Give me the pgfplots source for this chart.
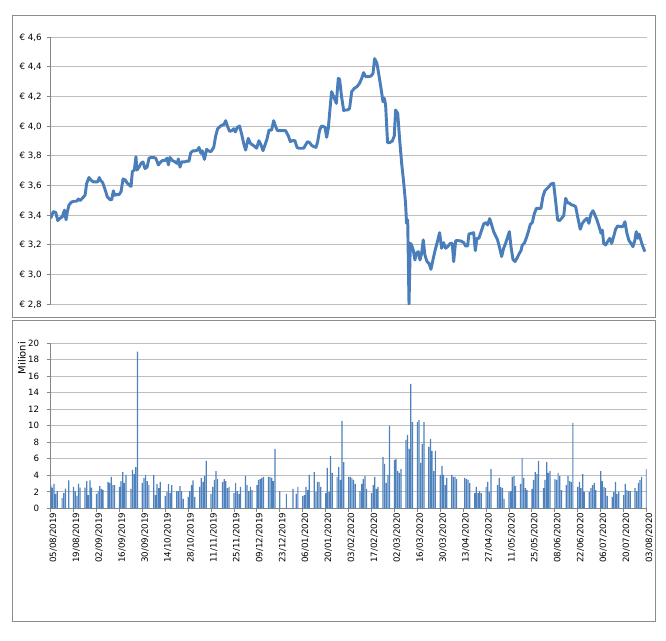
\documentclass[border=0pt]{standalone}
\usepackage{fontspec}
\setmainfont{DejaVu Sans}
\usepackage{pgfplots}
\pgfplotsset{compat=1.18}
\definecolor{lineblue}{HTML}{4A7EBB}
\definecolor{barblue}{HTML}{4F81BD}
\definecolor{gridgray}{HTML}{BEBEBE}
\definecolor{framegray}{HTML}{8C8C8C}
\definecolor{axisgray}{HTML}{868686}
\begin{document}
\begin{tikzpicture}[font=\fontsize{6.5}{7.8}\selectfont]
\path[use as bounding box] (0,0) rectangle (499.5pt,480.75pt);
\draw[framegray, line width=0.75pt] (9.2pt,242.25pt) rectangle (491.6pt,468.75pt);
\draw[framegray, line width=0.75pt] (9.2pt,14.5pt) rectangle (491.6pt,240pt);

\begin{axis}[
  at={(38pt,252.5pt)}, anchor=south west,
  scale only axis, width=446.9pt, height=200.25pt,
  xmin=0, xmax=364, ymin=2.8, ymax=4.6,
  axis x line=none,
  axis y line=left, y axis line style={-, axisgray, line width=0.75pt},
  ytick={2.8,3,3.2,3.4,3.6,3.8,4,4.2,4.4,4.6},
  yticklabels={{€ 2,8},{€ 3,0},{€ 3,2},{€ 3,4},{€ 3,6},{€ 3,8},{€ 4,0},{€ 4,2},{€ 4,4},{€ 4,6}},
  tick align=outside, major tick length=3pt,
  tick style={axisgray, line width=0.75pt},
  ymajorgrids, grid style={gridgray, line width=0.75pt},
  yticklabel style={anchor=east, inner sep=0pt, xshift=-3.5pt},
]
\addplot[lineblue, line width=2.2pt, line join=round] coordinates {
(0,3.38)(1.6,3.425)(3.1,3.42)(4.3,3.365)(5.7,3.38)(7.1,3.39)(8.4,3.435)(9.4,3.37)(10.2,3.425)(11.2,3.47)(12.8,3.49)(14.5,3.495)(15.9,3.495)(16.9,3.51)(18.1,3.50)(19.3,3.515)(21.0,3.535)(22.0,3.615)(23.4,3.655)(24.4,3.64)(26.1,3.625)(27.5,3.625)(28.7,3.625)(29.7,3.655)(30.5,3.635)(31.8,3.62)(33.2,3.575)(34.6,3.525)(36.3,3.505)(37.3,3.505)(38.3,3.565)(39.1,3.535)(40.3,3.54)(41.8,3.54)(43.0,3.56)(44.2,3.645)(45.4,3.64)(46.6,3.62)(47.9,3.605)(49.1,3.595)(49.9,3.695)(51.1,3.705)(52.1,3.795)(52.7,3.705)(54.0,3.725)(55.2,3.75)(56.4,3.76)(57.6,3.715)(58.9,3.725)(60.1,3.785)(61.3,3.79)(62.9,3.79)(64.2,3.785)(65.8,3.74)(67.2,3.76)(68.4,3.77)(69.9,3.77)(71.1,3.785)(71.9,3.74)(72.9,3.79)(74.3,3.77)(76.0,3.76)(77.2,3.75)(78.0,3.78)(79.0,3.725)(80.0,3.76)(81.7,3.76)(83.1,3.765)(84.5,3.765)(85.5,3.82)(86.8,3.835)(88.2,3.835)
(89.8,3.84)(90.6,3.858)(91.8,3.818)(92.6,3.835)(93.9,3.777)(95.3,3.845)(96.3,3.835)(97.9,3.829)(99.6,3.858)(100.8,3.935)(102.0,3.984)(103.4,3.998)(104.8,4.009)(105.9,4.013)(106.9,4.038)(108.1,3.998)(109.3,3.966)(110.6,3.971)(111.8,3.984)(112.8,3.962)(114.0,3.993)(115.4,4.002)(116.7,3.946)(117.9,3.885)(119.1,3.84)(120.7,3.919)(122.0,3.885)(123.4,3.874)(124.8,3.863)(125.8,3.852)(127.2,3.903)(128.5,3.874)(129.7,3.836)(130.9,3.874)(132.1,3.912)(133.4,3.975)(135.0,3.975)(136.2,4.038)(137.4,3.998)(138.6,3.971)(140.3,3.971)(141.9,3.971)(143.5,3.971)(145.2,3.935)(146.4,3.897)(147.6,3.903)(149.2,3.903)(150.5,3.858)(151.7,3.852)(153.3,3.852)(154.5,3.852)(155.8,3.876)(157.0,3.897)(158.2,3.89)(159.4,3.872)(160.8,3.863)(162.1,3.858)(163.1,3.897)(164.3,3.975)(165.5,4.002)(166.8,3.998)(167.6,3.993)(168.6,3.926)(169.6,3.987)(170.4,4.088)(171.6,4.234)(172.9,4.2)(174.5,4.155)(175.7,4.324)(176.5,4.317)(177.7,4.2)(179.0,4.106)
(179.8,4.11)(181.4,4.11)(182.6,4.121)(183.9,4.234)(185.5,4.256)(187.1,4.267)(188.7,4.29)(190.0,4.324)(191.2,4.362)(192.4,4.335)(194.0,4.335)(195.7,4.339)(196.9,4.357)(197.9,4.456)(199.3,4.425)(200.5,4.346)(201.8,4.256)(203.0,4.166)(203.8,4.189)(204.6,4.144)(205.8,3.89)(207.1,3.89)(208.7,3.901)(209.9,3.935)(210.7,4.11)(212.0,4.088)(213.2,3.908)(214.4,3.751)(215.6,3.627)(216.8,3.481)(217.4,3.346)(218.1,3.369)(218.9,2.8)(219.7,3.211)(220.5,3.2)(221.5,3.166)(222.5,3.099)(223.6,3.148)(224.6,3.155)(225.6,3.099)(226.6,3.144)(227.6,3.234)(228.6,3.133)(229.9,3.088)(231.1,3.076)(232.3,3.036)(233.5,3.099)(234.8,3.162)(236.4,3.229)(237.6,3.283)(238.8,3.178)(240.0,3.216)(241.3,3.178)(242.5,3.189)(244.1,3.211)(245.3,3.211)(246.2,3.088)(247.4,3.229)(249.0,3.229)(250.6,3.227)(252.3,3.216)(253.5,3.193)(254.7,3.193)(255.5,3.274)(257.2,3.279)(258.4,3.283)(259.4,3.162)(260.4,3.245)(261.6,3.245)(263.3,3.301)(264.5,3.342)(266.1,3.351)(266.9,3.335)(268.2,3.378)(269.4,3.335)(270.6,3.29)
(273.0,3.234)(274.3,3.178)(275.5,3.122)(276.7,3.178)(277.9,3.211)(279.1,3.252)(280.2,3.29)(281.2,3.189)(282.4,3.103)(283.6,3.088)(284.8,3.11)(286.1,3.139)(287.3,3.162)(288.1,3.2)(289.3,3.211)(290.5,3.245)(291.8,3.29)(293.0,3.339)(294.2,3.351)(295.4,3.409)(296.7,3.447)(297.9,3.447)(299.5,3.447)(300.7,3.526)(301.9,3.566)(303.2,3.58)(304.4,3.593)(305.6,3.611)(307.2,3.616)(308.5,3.492)(309.7,3.369)(310.9,3.364)(312.1,3.38)(313.4,3.398)(314.6,3.515)(315.8,3.485)(317.0,3.481)(318.2,3.47)(319.5,3.467)(320.7,3.458)(321.9,3.391)(323.5,3.306)(324.8,3.346)(326.0,3.364)(327.6,3.38)(328.8,3.346)(330.0,3.409)(331.3,3.431)(332.5,3.402)(333.7,3.369)(334.9,3.328)(336.2,3.279)(337.0,3.301)(337.8,3.211)(339.0,3.2)(340.2,3.222)(341.5,3.245)(342.7,3.211)(343.9,3.256)(345.1,3.306)(346.3,3.328)(348.0,3.324)(349.6,3.324)(350.8,3.357)(352.0,3.279)(353.3,3.229)(354.5,3.211)(355.7,3.189)(356.9,3.234)(357.7,3.29)(358.6,3.245)(359.4,3.274)(360.2,3.245)(361.4,3.2)(363.0,3.155)
};
\end{axis}

\begin{axis}[
  at={(38pt,99.5pt)}, anchor=south west,
  scale only axis, width=446.9pt, height=123.75pt,
  xmin=0, xmax=364, ymin=0, ymax=20,
  axis lines=left, axis line style={-, axisgray, line width=0.75pt},
  xtick={0,14,...,364},
  xticklabels={05/08/2019,19/08/2019,02/09/2019,16/09/2019,30/09/2019,14/10/2019,28/10/2019,11/11/2019,25/11/2019,09/12/2019,23/12/2019,06/01/2020,20/01/2020,03/02/2020,17/02/2020,02/03/2020,16/03/2020,30/03/2020,13/04/2020,27/04/2020,11/05/2020,25/05/2020,08/06/2020,22/06/2020,06/07/2020,20/07/2020,03/08/2020},
  xticklabel style={rotate=90, anchor=east, inner sep=0pt, yshift=-2pt},
  ytick={0,2,4,6,8,10,12,14,16,18,20},
  yticklabels={0,2,4,6,8,10,12,14,16,18,20},
  yticklabel style={anchor=east, inner sep=0pt, xshift=-5.5pt},
  tick align=outside, major tick length=3pt,
  tick style={axisgray, line width=0.75pt},
  ymajorgrids, grid style={gridgray, line width=0.75pt},
  ybar, bar width=0.9pt,
]
\addplot[fill=barblue, draw=none] coordinates {
(0,2.8)(1,2.5)(2,2.95)(3,1.75)(4,2.1)
(7,1.25)(8,1.85)(9,2.4)(11,3.4)
(14,2.6)(15,2.1)(16,1.5)(17,3.0)(18,2.5)
(21,2.5)(22,3.3)(23,1.6)(24,3.4)(25,2.5)
(28,1.75)(29,2.1)(30,2.7)(31,2.35)(32,2.25)
(35,3.2)(36,3.1)(37,3.8)(38,2.8)(39,2.8)
(42,2.6)(43,3.3)(44,4.4)(45,3.1)(46,4.05)
(49,2.35)(50,4.65)(51,4.15)(52,5.0)(53,19.0)
(56,3.1)(57,3.7)(58,4.05)(59,3.3)(60,2.8)
(63,4.05)(64,1.6)(65,2.95)(66,2.45)(67,3.2)
(70,1.5)(71,2.0)(72,2.95)(73,1.85)(74,2.8)
(77,2.1)(78,2.1)(79,2.7)(80,2.1)(81,1.15)
(84,1.4)(85,2.1)(86,2.8)(87,3.4)(88,1.4)
(91,2.6)(92,3.7)(93,3.2)(94,3.9)(95,5.75)
(98,1.75)(99,2.6)(100,3.45)(101,4.5)(102,3.55)
(105,3.2)(106,3.55)(107,3.3)(108,2.45)(109,2.6)
(112,1.85)(113,3.1)(114,2.1)(115,1.75)(116,2.6)
(119,3.9)(120,2.8)(121,2.1)(122,2.6)(123,2.2)
(126,2.8)(127,3.45)(128,3.55)(129,3.7)(130,3.8)
(133,3.8)(134,3.8)(135,3.7)(136,3.3)(137,7.2)
(140,2.1)(144,1.75)
(148,2.35)(150,1.75)(151,2.6)
(154,1.5)(155,1.6)(156,2.6)(157,2.2)(158,4.05)
(161,4.4)(162,2.0)(163,3.2)(164,3.2)(165,2.6)
(168,1.85)(169,4.9)(170,2.0)(171,6.35)(172,4.3)
(175,3.8)(176,5.0)(177,3.45)(178,10.6)(179,5.6)
(182,3.8)(183,3.8)(184,3.7)(185,3.45)(186,2.95)
(189,2.1)(190,2.95)(191,3.55)(192,3.9)(193,2.35)
(196,1.85)(197,2.8)(198,3.8)(199,2.35)(200,2.6)
(203,6.2)(204,5.4)(205,3.1)(206,4.05)(207,10.0)
(210,5.85)(211,6.0)(212,4.5)(213,4.3)(214,4.75)
(217,8.3)(218,8.9)(219,7.2)(220,15.1)(221,10.45)
(224,10.45)(225,10.7)(226,5.5)(227,7.8)(228,10.45)
(231,7.45)(232,8.4)(233,6.95)(234,4.5)(235,6.95)
(238,4.05)(239,5.15)(240,4.05)(241,2.8)(242,3.7)
(245,4.05)(246,3.8)(247,3.8)(248,3.55)
(253,3.7)(254,3.55)(255,3.45)(256,3.1)
(259,1.85)(260,2.6)(261,1.85)(262,2.1)(263,1.85)
(266,2.6)(267,3.2)(268,2.0)(269,4.75)
(273,2.8)(274,3.7)(275,2.6)(276,2.45)(277,1.15)
(280,2.0)(281,2.1)(282,3.8)(283,3.9)(284,2.7)
(287,2.95)(288,6.1)(289,3.7)(290,2.45)(291,2.2)
(294,2.35)(295,3.45)(296,4.4)(297,4.15)(298,5.75)
(301,2.45)(302,3.45)(303,5.6)(304,4.3)(305,4.5)
(308,3.55)(309,3.45)(310,4.3)(311,3.9)(312,2.2)
(315,2.8)(316,3.9)(317,3.3)(318,3.2)(319,10.35)
(322,2.6)(323,3.2)(324,2.45)(325,4.15)(326,2.0)
(329,2.0)(330,2.45)(331,2.8)(332,3.1)(333,2.2)
(336,4.5)(337,3.3)(338,2.6)(339,2.45)(340,1.5)
(343,1.4)(344,2.0)(345,3.2)(346,1.75)(347,2.0)
(350,1.6)(351,2.95)(352,2.2)(353,2.1)(354,2.1)
(357,2.45)(358,2.1)(359,3.1)(360,3.45)(361,3.8)
(364,4.75)
};
\end{axis}
\node[rotate=90, font=\fontsize{7.5}{9}\selectfont] at (16.5pt,212.25pt) {Milioni};
\end{tikzpicture}
\end{document}
